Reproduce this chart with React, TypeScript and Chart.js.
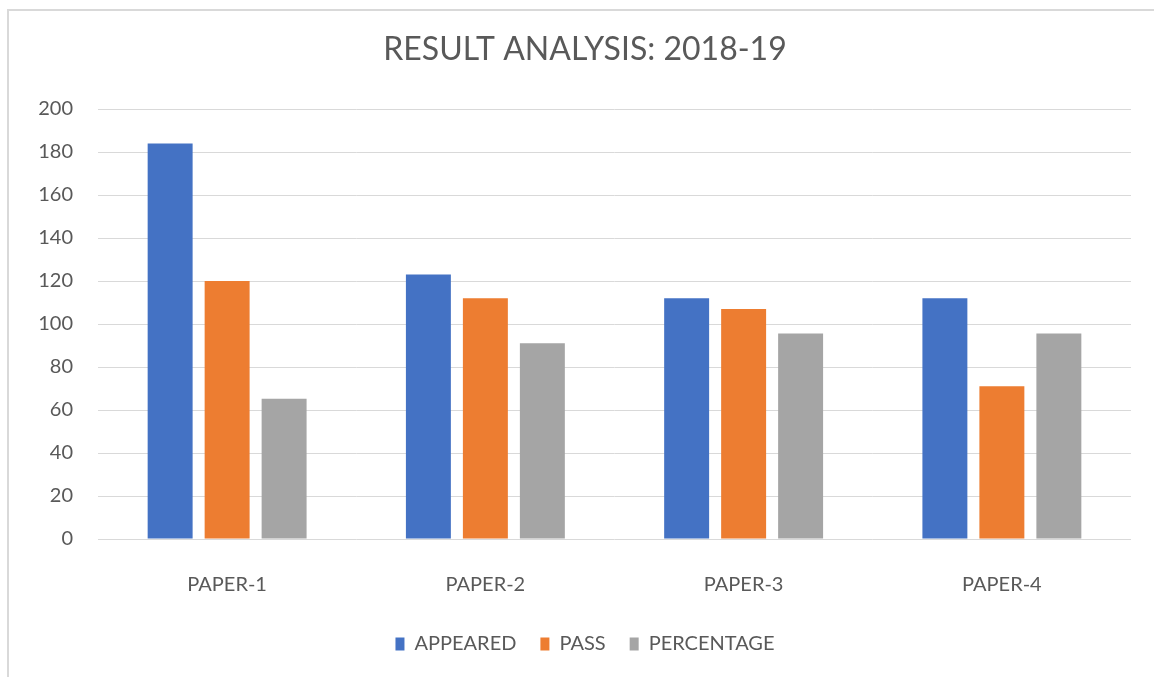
import React, { useEffect, useRef } from "react";
import { Chart, registerables } from "chart.js";

Chart.register(...registerables);

const categories = ["PAPER-1", "PAPER-2", "PAPER-3", "PAPER-4"];
const appeared = [184, 123, 112, 112];
const pass = [120, 112, 107, 71];
const percentage = [65.22, 91.06, 95.54, 95.54];
const seriesNames = ["APPEARED", "PASS", "PERCENTAGE"];
const seriesColors = ["#4472C4", "#ED7D31", "#A5A5A5"];
const yMin = 0;
const yMax = 200;
const yStep = 20;
const titleText = "RESULT ANALYSIS: 2018-19";

const FONT = "Lato, Carlito, sans-serif";
const TEXT = "#595959";
const GRID = "#D9D9D9";

const borderPlugin = {
  id: "outerBorder",
  beforeDraw(chart: any) {
    const ctx = chart.ctx;
    ctx.save();
    ctx.fillStyle = "#ffffff";
    ctx.fillRect(0, 0, chart.width, chart.height);
    ctx.strokeStyle = GRID;
    ctx.lineWidth = 2;
    ctx.beginPath();
    ctx.moveTo(8, chart.height);
    ctx.lineTo(8, 10);
    ctx.lineTo(chart.width, 10);
    ctx.stroke();
    ctx.restore();
  },
};

export default function App() {
  const ref = useRef<HTMLCanvasElement | null>(null);
  useEffect(() => {
    if (!ref.current) return;
    const data = [appeared, pass, percentage];
    const chart = new Chart(ref.current, {
      type: "bar",
      data: {
        labels: categories,
        datasets: seriesNames.map((name, i) => ({
          label: name,
          data: data[i],
          backgroundColor: seriesColors[i],
          borderWidth: 0,
          categoryPercentage: 0.662,
          barPercentage: 0.789,
        })),
      },
      options: {
        responsive: false,
        animation: false,
        devicePixelRatio: 1,
        layout: { padding: { left: 10, right: 20, top: 10, bottom: 13 } },
        plugins: {
          title: {
            display: true,
            text: titleText,
            color: TEXT,
            font: { family: FONT, size: 32, weight: "normal" },
            padding: { top: 20, bottom: 40.6 },
          },
          legend: {
            position: "bottom",
            labels: {
              color: TEXT,
              font: { family: FONT, size: 20 },
              boxWidth: 9,
              boxHeight: 13,
              padding: 24,
            },
          },
          tooltip: { enabled: false },
        },
        scales: {
          x: {
            grid: { display: false },
            border: { display: false },
            ticks: {
              color: TEXT,
              font: { family: FONT, size: 20 },
              padding: 26,
              maxRotation: 0,
            },
            afterFit(s: any) {
              s.height = 71;
            },
          },
          y: {
            min: yMin,
            max: yMax,
            grid: { color: GRID, lineWidth: 1, drawTicks: false },
            border: { display: false },
            ticks: {
              stepSize: yStep,
              color: TEXT,
              font: { family: FONT, size: 20 },
              padding: 25,
            },
            afterFit(s: any) {
              s.width = 88;
            },
          },
          y2: {
            position: "right",
            display: true,
            grid: { display: false },
            border: { display: false },
            ticks: { display: false },
            afterFit(s: any) {
              s.width = 29;
            },
          },
        },
      },
      plugins: [borderPlugin],
    });
    return () => chart.destroy();
  }, []);
  return (
    <div
      style={{
        position: "fixed",
        left: 0,
        top: 0,
        width: 1154,
        height: 677,
        overflow: "hidden",
        background: "#fff",
      }}
    >
      <canvas
        ref={ref}
        width={1180}
        height={677}
        style={{ display: "block", width: 1180, height: 677 }}
      />
    </div>
  );
}
